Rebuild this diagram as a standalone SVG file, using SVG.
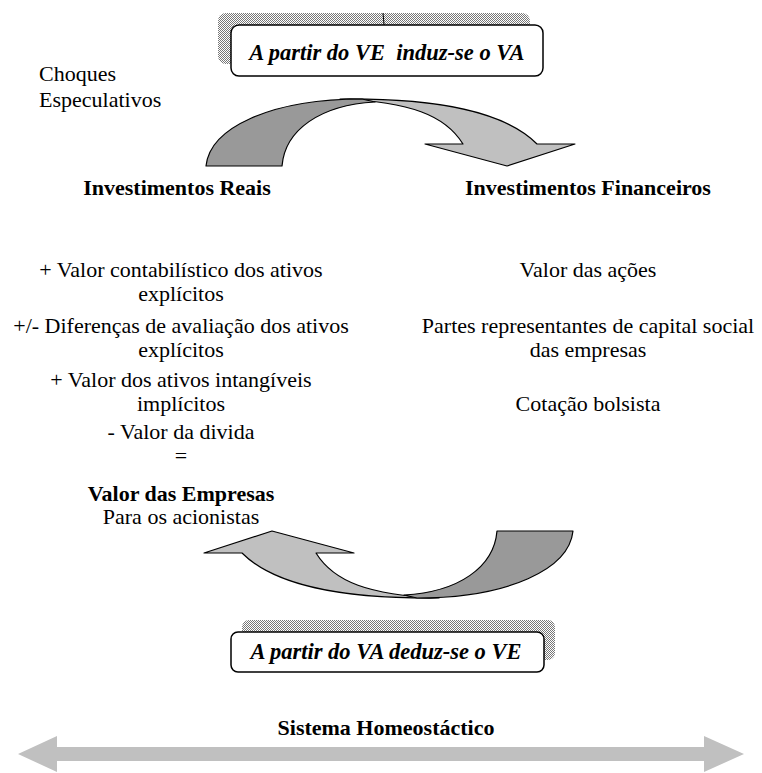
<svg xmlns="http://www.w3.org/2000/svg" width="762" height="773" viewBox="0 0 762 773">
<defs>
<pattern id="chk" width="2" height="2" patternUnits="userSpaceOnUse">
<rect width="2" height="2" fill="#fff"/>
<rect width="1" height="1" fill="#777"/>
<rect x="1" y="1" width="1" height="1" fill="#777"/>
</pattern>
<g id="arc">
<path class="lt" d="M340,99 C440,98 505,112 537,144 L575,144 L507,166 L425,144 L463,144 C445,115 410,102 340,99 Z"/>
<path class="dk" d="M206,166 C210,128 270,99 362,99 L375,102 C320,105 285,130 282,166 Z"/>
</g>
</defs>
<style>
.t{font-family:"Liberation Serif","Times New Roman",serif;font-size:22px;fill:#000}
.b{font-weight:bold}
.bi{font-family:"Liberation Serif","Times New Roman",serif;font-size:22.5px;font-weight:bold;font-style:italic;fill:#000}
.box{fill:#fff;stroke:#000;stroke-width:1.5}
.sh{fill:url(#chk)}
.lt{fill:#c0c0c0;stroke:#000;stroke-width:1.2;stroke-linejoin:round}
.dk{fill:#999;stroke:#000;stroke-width:1.2;stroke-linejoin:round}
</style>
<rect width="762" height="773" fill="#fff"/>

<g id="connectors">
<use href="#arc"/>
<use href="#arc" transform="rotate(180 389.5 348.5)"/>
<path d="M18,754 L57,736 L57,747 L704,747 L704,736 L744,754 L704,772 L704,761 L57,761 L57,772 Z" fill="#c0c0c0"/>
</g>

<g id="box-top">
<rect class="sh" x="218" y="13" width="312" height="51" rx="8"/>
<line x1="383" y1="13" x2="385" y2="36" stroke="#000" stroke-width="1"/>
<rect class="box" x="231" y="25" width="312" height="51" rx="8"/>
<text class="bi" x="387" y="60" text-anchor="middle" xml:space="preserve">A partir do VE  induz-se o VA</text>
</g>

<g id="box-bottom">
<rect class="sh" x="242" y="620" width="313" height="40" rx="7"/>
<rect class="box" x="231" y="632" width="313" height="40" rx="7"/>
<text class="bi" x="386" y="659" text-anchor="middle">A partir do VA deduz-se o VE</text>
</g>

<g id="choques">
<text class="t" x="39" y="81">Choques</text>
<text class="t" x="39" y="107">Especulativos</text>
</g>

<g id="inv-reais">
<text class="t b" x="177" y="195" text-anchor="middle">Investimentos Reais</text>
</g>
<g id="inv-fin">
<text class="t b" x="588" y="195" text-anchor="middle">Investimentos Financeiros</text>
</g>

<g id="valor-empresas" class="t" text-anchor="middle">
<text x="181" y="277">+ Valor contabilístico dos ativos</text>
<text x="181" y="301">explícitos</text>
<text x="181" y="333">+/- Diferenças de avaliação dos ativos</text>
<text x="181" y="357">explícitos</text>
<text x="181" y="387">+ Valor dos ativos intangíveis</text>
<text x="181" y="411">implícitos</text>
<text x="181" y="439">- Valor da divida</text>
<text x="181" y="463">=</text>
<text x="181" y="501" font-weight="bold">Valor das Empresas</text>
<text x="181" y="524">Para os acionistas</text>
</g>

<g id="valor-acoes" class="t" text-anchor="middle">
<text x="588" y="277">Valor das ações</text>
<text x="588" y="333">Partes representantes de capital social</text>
<text x="588" y="357">das empresas</text>
<text x="588" y="411">Cotação bolsista</text>
</g>

<g id="sistema">
<text class="t b" x="386" y="735" text-anchor="middle">Sistema Homeostáctico</text>
</g>
</svg>
